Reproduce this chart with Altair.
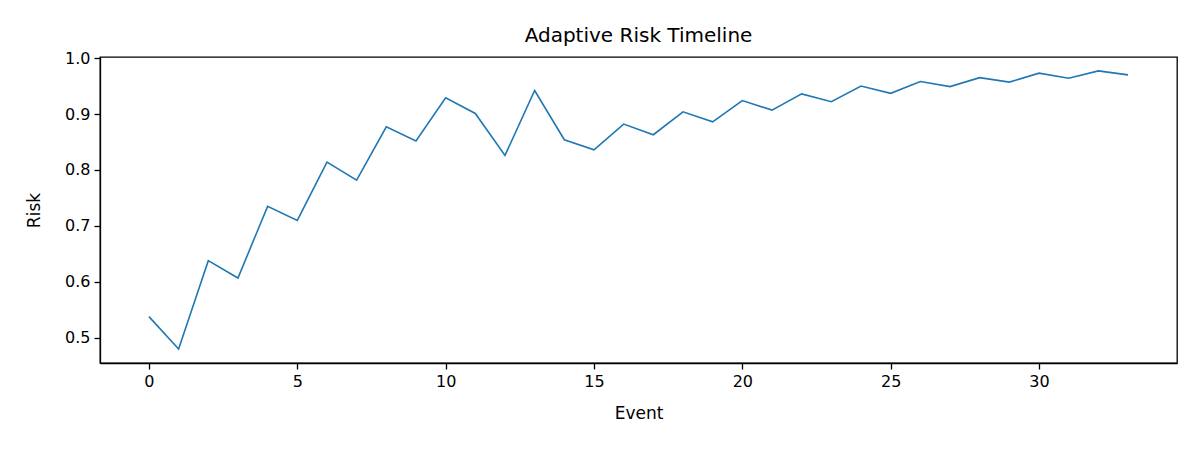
import pandas as pd
import altair as alt

events = list(range(34))
risk = [0.538, 0.480, 0.638, 0.607, 0.735, 0.710, 0.814, 0.782, 0.877, 0.852,
        0.929, 0.901, 0.826, 0.942, 0.854, 0.836, 0.882, 0.863, 0.904, 0.886,
        0.924, 0.907, 0.936, 0.922, 0.950, 0.937, 0.958, 0.949, 0.965, 0.957,
        0.973, 0.964, 0.977, 0.970]

df = pd.DataFrame({'event': events, 'risk': risk})

font = 'DejaVu Sans'

chart = alt.Chart(df).mark_line(color='#1f77b4', strokeWidth=1.6, clip=True).encode(
    x=alt.X('event:Q', title='Event',
            scale=alt.Scale(domain=[-1.65, 34.65], nice=False, zero=False),
            axis=alt.Axis(values=[0, 5, 10, 15, 20, 25, 30], format='d')),
    y=alt.Y('risk:Q', title='Risk',
            scale=alt.Scale(domain=[0.4551, 1.0019], nice=False, zero=False),
            axis=alt.Axis(values=[0.5, 0.6, 0.7, 0.8, 0.9, 1.0], format='.1f')),
).properties(
    width=1077, height=306,
    autosize=alt.AutoSizeParams(type='none'),
    padding={'left': 92, 'top': 49, 'right': 15, 'bottom': 79},
    title=alt.TitleParams('Adaptive Risk Timeline', font=font, fontSize=20,
                          fontWeight='normal', color='black', offset=4),
).configure_view(
    stroke='black', strokeWidth=1.3
).configure_axis(
    grid=False, domainColor='black', domainWidth=1.3,
    tickColor='black', tickWidth=1.3, tickSize=6,
    labelFont=font, labelFontSize=16, labelColor='black', labelPadding=4,
    titleFont=font, titleFontSize=17, titleFontWeight='normal', titleColor='black',
).configure_axisX(
    titlePadding=16
).configure_axisY(
    titlePadding=21
)

chart.save("out.html", embed_options={"renderer": "svg", "actions": False})
